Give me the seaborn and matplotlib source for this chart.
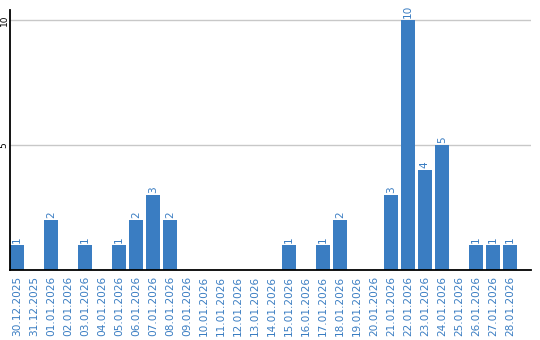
import matplotlib
matplotlib.use("Agg")
import matplotlib.pyplot as plt
import seaborn as sns
import pandas as pd

dates = ["30.12.2025", "31.12.2025", "01.01.2026", "02.01.2026", "03.01.2026",
         "04.01.2026", "05.01.2026", "06.01.2026", "07.01.2026", "08.01.2026",
         "09.01.2026", "10.01.2026", "11.01.2026", "12.01.2026", "13.01.2026",
         "14.01.2026", "15.01.2026", "16.01.2026", "17.01.2026", "18.01.2026",
         "19.01.2026", "20.01.2026", "21.01.2026", "22.01.2026", "23.01.2026",
         "24.01.2026", "25.01.2026", "26.01.2026", "27.01.2026", "28.01.2026"]
counts = [1, 0, 2, 0, 1, 0, 1, 2, 3, 2,
          0, 0, 0, 0, 0, 0, 1, 0, 1, 2,
          0, 0, 3, 10, 4, 5, 0, 1, 1, 1]
yticks = [5, 10]

BLUE = "#3a7dc2"
sns.set_theme(style="white")
plt.rcParams['font.family'] = ['DejaVu Sans']

df = pd.DataFrame({"date": dates, "count": counts})

fig = plt.figure(figsize=(5.4, 3.4), dpi=100)
ax = fig.add_axes([10 / 540, 70 / 340, 521 / 540, 260 / 340])
sns.barplot(data=df, x="date", y="count", color=BLUE, saturation=1,
            width=0.82, ax=ax, zorder=3)
for p in ax.patches:
    p.set_edgecolor("none")

for i, v in enumerate(counts):
    if v > 0:
        ax.text(i, v + 0.08, str(v), rotation=90, ha="center", va="bottom",
                color=BLUE, fontsize=7.6)

ax.set_xlim(-0.41, 30.24)
ax.set_ylim(0, 10.4)
ax.set_yticks(yticks)
ax.set_yticklabels([str(t) for t in yticks], rotation=90, va="center",
                   fontsize=6.5, color="black")
ax.yaxis.grid(True, color="#c8c8c8", linewidth=1, zorder=0)
ax.xaxis.grid(False)
ax.set_xticks(range(len(dates)))
ax.set_xticklabels(dates, rotation=90, fontsize=7.6, color=BLUE)
ax.tick_params(axis="x", length=0, pad=4)
ax.tick_params(axis="y", length=0, pad=1)
ax.set_xlabel("")
ax.set_ylabel("")
for s in ["top", "right"]:
    ax.spines[s].set_visible(False)
for s in ["left", "bottom"]:
    ax.spines[s].set_visible(True)
    ax.spines[s].set_color("black")
    ax.spines[s].set_linewidth(1.3)
    ax.spines[s].set_zorder(5)

fig.savefig("out.png", dpi=100)
